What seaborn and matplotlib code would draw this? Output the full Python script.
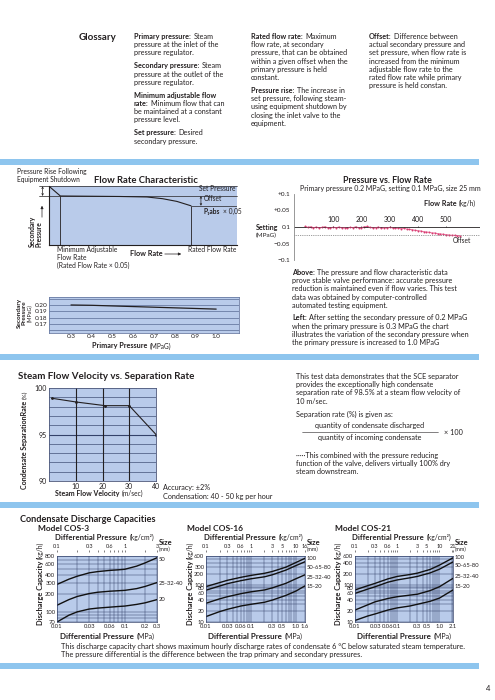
import numpy as np
import pandas as pd
import seaborn as sns
import matplotlib.pyplot as plt
from matplotlib.patches import Rectangle, FancyArrowPatch
from matplotlib.ticker import FixedLocator, LogLocator, NullFormatter

sns.set_style("white")
plt.rcParams['font.family'] = ['Lato', 'DejaVu Sans']
plt.rcParams['axes.linewidth'] = 0.6

# ---------------- data ----------------
gloss_col1 = [
    ["Primary pressure:|Steam", "pressure at the inlet of the", "pressure regulator."],
    ["Secondary pressure:|Steam", "pressure at the outlet of the", "pressure regulator."],
    ["Minimum adjustable flow|", "rate:|Minimum flow that can", "be maintained at a constant", "pressure level."],
    ["Set pressure:|Desired", "secondary pressure."],
]
gloss_col2 = [
    ["Rated flow rate:|Maximum", "flow rate, at secondary", "pressure, that can be obtained",
     "within a given offset when the", "primary pressure is held", "constant."],
    ["Pressure rise:|The increase in", "set pressure, following steam-", "using equipment shutdown by",
     "closing the inlet valve to the", "equipment."],
]
gloss_col3 = [
    ["Offset:|Difference between", "actual secondary pressure and", "set pressure, when flow rate is",
     "increased from the minimum", "adjustable flow rate to the", "rated flow rate while primary",
     "pressure is held constan."],
]
pressure_notes = [
    ["Above:|The pressure and flow characteristic data", "prove stable valve performance: accurate pressure",
     "reduction is maintained even if flow varies. This test", "data was obtained by computer-controlled",
     "automated testing equipment."],
    ["Left:|After setting the secondary pressure of 0.2 MPaG", "when the primary pressure is 0.3 MPaG the chart",
     "illustrates the variation of the secondary pressure when", "the primary pressure is increased to 1.0 MPaG"],
]
steam_notes = [
    ["This test data demonstrates that the SCE separator", "provides the exceptionally high condensate",
     "separation rate of 98.5% at a steam flow velocity of", "10 m/sec."],
    ["Separation rate (%) is given as:"],
]
steam_notes2 = ["\u00b7\u00b7\u00b7\u00b7\u00b7This combined with the pressure reducing",
                "function of the valve, delivers virtually 100% dry", "steam downstream."]

# flow rate characteristic (schematic, relative units)
frc_flow = [0.0, 0.08, 0.3, 0.5, 0.69, 0.8, 0.9, 1.0]
frc_pres = [1.2, 1.0, 0.995, 0.99, 0.98, 0.945, 0.89, 0.8]

# pressure vs flow rate (deviation from 0.1 MPaG setting)
pvf_flow = [0, 10, 20, 30, 40, 50, 60, 70, 80, 90, 100, 110, 120, 130, 140, 150, 160, 170, 180, 190,
            200, 210, 220, 230, 240, 250, 260, 270, 280, 290, 300, 310, 320, 330, 340, 350, 360, 370,
            380, 390, 400, 410, 420, 430, 440, 450, 460, 470, 480, 490, 500, 510, 520, 530, 540, 550]
pvf_dev = [0.002, -0.001, 0.001, -0.002, 0.000, -0.003, -0.001, 0.001, -0.002, -0.003, -0.001, -0.002,
           0.000, -0.003, -0.002, -0.004, -0.001, -0.002, 0.001, -0.003, -0.002, 0.001, 0.002, -0.001,
           -0.003, -0.002, 0.000, -0.004, -0.002, -0.003, -0.001, -0.003, -0.004, -0.003, -0.005, -0.004,
           -0.006, -0.007, -0.008, -0.010, -0.011, -0.012, -0.014, -0.015, -0.016, -0.018, -0.018, -0.020,
           -0.021, -0.022, -0.023, -0.024, -0.025, -0.025, -0.026, -0.027]
pvf_offset = -0.024
pvf_xticks = [100, 200, 300, 400, 500]
pvf_yticks = [0.1, 0.05, 0.0, -0.05, -0.1]
pvf_ylabels = ["+0.1", "+0.05", "0.1", "\u22120.05", "\u22120.1"]

# secondary vs primary pressure
prim_p = [0.3, 0.4, 0.5, 0.6, 0.7, 0.8, 0.9, 1.0]
sec_p = [0.200, 0.1995, 0.1985, 0.1975, 0.1965, 0.1955, 0.1945, 0.1935]

# steam flow velocity vs separation rate
velocity = [1, 10, 21, 30, 40]
separation = [98.9, 98.5, 98.1, 98.1, 95.0]

# condensate discharge capacities
cos3_dp = [0.01, 0.015, 0.02, 0.03, 0.04, 0.06, 0.08, 0.1, 0.15, 0.2, 0.3]
cos3_curves = {
    "50": [280, 340, 380, 430, 450, 470, 480, 490, 550, 620, 750],
    "25-32-40": [130, 160, 180, 200, 210, 218, 222, 225, 240, 260, 300],
    "20": [70, 90, 102, 113, 117, 121, 124, 126, 134, 142, 160],
}
cos16_dp = [0.01, 0.02, 0.03, 0.06, 0.1, 0.2, 0.3, 0.6, 1.0, 1.6]
cos16_curves = {
    "100": [90, 115, 133, 160, 180, 205, 230, 300, 400, 520],
    "50-65-80": [72, 93, 108, 130, 146, 165, 187, 250, 330, 420],
    "25-32-40": [32, 42, 48, 58, 65, 73, 83, 110, 146, 187],
    "15-20": [14, 19, 22, 27, 30, 34, 39, 52, 68, 94],
}
cos21_dp = [0.01, 0.02, 0.03, 0.06, 0.1, 0.2, 0.3, 0.6, 1.0, 2.1]
cos21_curves = {
    "100": [73, 95, 110, 145, 169, 190, 207, 260, 340, 535],
    "50-65-80": [59, 77, 89, 118, 136, 155, 169, 210, 264, 415],
    "25-32-40": [21, 29, 35, 43, 48, 53, 56, 70, 89, 150],
    "15-20": [11, 14.5, 16.5, 21, 24, 27, 30, 36, 44, 73],
}
cos3_xt = [0.01, 0.03, 0.06, 0.1, 0.2, 0.3]
cos16_xt = [0.01, 0.03, 0.06, 0.1, 0.3, 0.5, 1.0, 1.6]
cos21_xt = [0.01, 0.03, 0.06, 0.1, 0.3, 0.5, 1.0, 2.1]
cos3_top = [0.1, 0.3, 0.6, 1, 3]
cos16_top = [0.1, 0.3, 0.6, 1, 3, 5, 10, 16]
cos21_top = [0.1, 0.3, 0.6, 1, 3, 5, 10, 21]
cos3_yt = [70, 100, 200, 300, 400, 600, 800]
cos16_yt = [10, 20, 40, 60, 80, 100, 200, 300, 600]
cos21_yt = [10, 20, 40, 60, 80, 100, 200, 400, 600]

# ---------------- figure ----------------
W, H = 495, 700
INK = '#231f20'
FILL = '#b9cbea'
GRID = '#34426a'
BAR = '#8ec5ee'
BODY = 5.2

fig = plt.figure(figsize=(W / 100, H / 100), dpi=100)
renderer = fig.canvas.get_renderer()


def box(x0, y0, x1, y1):
    return fig.add_axes([x0 / W, 1 - y1 / H, (x1 - x0) / W, (y1 - y0) / H])


def put(x, y, s, size=BODY, weight='normal', **kw):
    kw.setdefault('color', INK)
    kw.setdefault('va', 'baseline')
    return fig.text(x / W, 1 - y / H, s, fontsize=size, fontweight=weight, **kw)


def width(t):
    return t.get_window_extent(renderer).width


def rich(x, y, line, size=BODY, rsize=None):
    b, r = line.split('|', 1) if '|' in line else ('', line)
    if b:
        t = put(x, y, b, size, 'bold')
        x += width(t) + size * 0.5
    if r:
        put(x, y, r, rsize or size)


def rich_center(cx, y, line, size, rsize):
    b, r = line.split('|', 1)
    tb = put(cx, y, b, size, 'bold')
    tr = put(cx, y, r, rsize)
    wb, wr = width(tb), width(tr)
    gap = size * 0.5
    x0 = cx - (wb + gap + wr) / 2
    tb.set_x(x0 / W)
    tr.set_x((x0 + wb + gap) / W)


def para(x, y, blocks, size=BODY, pitch=8.2, gap=4.8):
    for block in blocks:
        for line in block:
            rich(x, y, line, size)
            y += pitch
        y += gap


def vrich(x, y_bottom, bold, reg, size=BODY):
    t = put(x, y_bottom, bold, size, 'bold', rotation=90, va='bottom', ha='center')
    h = t.get_window_extent(renderer).height
    put(x, y_bottom - h - 1.5, reg, size * 0.9, rotation=90, va='bottom', ha='center')


def arrow(x0, y0, x1, y1, style='-|>', ms=4):
    fig.add_artist(FancyArrowPatch((x0 / W, 1 - y0 / H), (x1 / W, 1 - y1 / H), arrowstyle=style,
                                   mutation_scale=ms, lw=0.5, color=INK, transform=fig.transFigure))


# section bars
for y0 in [159, 354, 502, 663]:
    fig.add_artist(Rectangle((0, 1 - (y0 + 6) / H), 479 / W, 6 / H, transform=fig.transFigure,
                             facecolor=BAR, edgecolor='none'))
put(486, 691, "4", 5.5)

# ---------------- glossary ----------------
put(79, 40, "Glossary", 7, 'bold')
para(134, 39, gloss_col1)
para(251, 39, gloss_col2)
para(369, 39, gloss_col3)

# ---------------- flow rate characteristic ----------------
ax = box(49, 186, 237, 245)
ax.set_facecolor(FILL)
ax.set_xlim(0, 1.324)
ax.set_ylim(0, 1.204)
sns.lineplot(x=frc_flow, y=frc_pres, ax=ax, color=INK, lw=0.8, sort=False)
ax.plot([-0.07, 1.324], [1.0, 1.0], color=INK, lw=0.5, clip_on=False)
ax.plot([-0.07, 1.324], [1.2, 1.2], color=INK, lw=0.5, clip_on=False)
ax.plot([frc_flow[-1], 1.324], [frc_pres[-1], frc_pres[-1]], color=INK, lw=0.5)
ax.vlines([frc_flow[1], frc_flow[-1]], 0, [frc_pres[1], frc_pres[-1]], color=INK, lw=0.6)
ax.annotate("", xy=(-0.045, 1.0), xytext=(-0.045, 1.2), annotation_clip=False,
            arrowprops=dict(arrowstyle='<->', lw=0.5, color=INK, mutation_scale=3, shrinkA=0, shrinkB=0))
ax.annotate("", xy=(1.07, frc_pres[-1]), xytext=(1.07, 1.0),
            arrowprops=dict(arrowstyle='<->', lw=0.5, color=INK, mutation_scale=3, shrinkA=0, shrinkB=0))
for s in ['top', 'right']:
    ax.spines[s].set_visible(False)
for s in ['left', 'bottom']:
    ax.spines[s].set_color(INK)
    ax.spines[s].set_linewidth(0.8)
ax.set_xticks([])
ax.set_yticks([])
put(17, 174, "Pressure Rise Following", 4.8)
put(17, 182, "Equipment Shutdown", 4.8)
put(94, 183, "Flow Rate Characteristic", 6.8, 'bold')
put(199, 191, "Set Pressure", 4.8)
put(204, 201, "Offset", 4.8)
rich(204, 214, "P\u2081abs|\u00d7 0,05", 4.8)
put(57, 252, "Minimum Adjustable", 4.8)
put(57, 260, "Flow Rate", 4.8)
put(57, 268, "(Rated Flow Rate \u00d7 0.05)", 4.8)
put(130, 256, "Flow Rate", 5.2, 'bold')
arrow(162, 254, 184, 254)
put(188, 252, "Rated Flow Rate", 4.8)
put(36, 247, "Secondary\nPressure", 4.8, 'bold', rotation=90, va='bottom', ha='center',
    multialignment='left', linespacing=1.0)
arrow(42, 220, 42, 203)

# ---------------- pressure vs flow rate ----------------
put(387, 183, "Pressure vs. Flow Rate", 6.4, 'bold', ha='center')
put(300, 191, "Primary pressure 0.2 MPaG, setting 0.1 MPaG, size 25 mm", 5.0)
ax = box(294, 194, 480, 260)
ax.set_xlim(-39, 620)
ax.set_ylim(-0.1, 0.1)
ax.patch.set_alpha(0)
ax.axhline(0, color=INK, lw=0.6)
ax.axhline(pvf_offset, color='#777777', lw=0.6, ls=(0, (1, 1.2)))
sns.lineplot(x=pvf_flow, y=pvf_dev, ax=ax, color='#e0457b', lw=0.6, alpha=0.8)
sns.scatterplot(x=pvf_flow, y=pvf_dev, ax=ax, color='#d83a70', s=2, linewidth=0)
ax.vlines(pvf_xticks, 0, 0.004, color=INK, lw=0.5)
for v in pvf_xticks:
    ax.text(v, 0.011, str(v), ha='center', va='bottom', fontsize=5.0, color=INK)
for s in ['top', 'right', 'bottom']:
    ax.spines[s].set_visible(False)
ax.spines['left'].set_color('#888888')
ax.set_xticks([])
ax.set_yticks(pvf_yticks, labels=pvf_ylabels)
ax.tick_params(axis='y', labelsize=4.6, length=1.5, width=0.4, pad=1.2, colors=INK)
rich(424, 206, "Flow Rate|(kg/h)", 5.2, 4.8)
put(256, 230, "Setting", 5.0, 'bold')
put(256, 237, "(MPaG)", 4.6)
put(453, 243, "Offset", 4.8)
para(292, 275, pressure_notes, BODY, 8.2, 4.5)

# ---------------- secondary vs primary ----------------
ax = box(49, 297, 239, 333)
ax.set_facecolor(FILL)
for v in [0.16, 0.17, 0.18, 0.19, 0.20, 0.21]:
    ax.axhline(v, color='#6a7ba3', lw=0.6)
sns.lineplot(x=prim_p, y=sec_p, ax=ax, color=INK, lw=0.9)
ax.set_xlim(0.194, 1.11)
ax.set_ylim(0.1558, 0.2126)
ax.set_xticks(prim_p, labels=[f"{v:.1f}" for v in prim_p])
ax.set_yticks([0.20, 0.19, 0.18, 0.17], labels=["0.20", "0.19", "0.18", "0.17"])
ax.tick_params(labelsize=4.6, length=0, pad=1.0, colors=INK)
for s in ax.spines.values():
    s.set_color('#6a7ba3')
put(19, 313, "Secondary", 4.6, 'bold', rotation=90, va='center', ha='center')
put(24.5, 313, "Pressure", 4.6, 'bold', rotation=90, va='center', ha='center')
put(30, 313, "(MPaG)", 4.0, rotation=90, va='center', ha='center')
rich(92, 348.5, "Primary Pressure|(MPaG)", 5.2, 4.7)

# ---------------- steam flow velocity ----------------
put(18, 379, "Steam Flow Velocity vs. Separation Rate", 7.0, 'bold')
ax = box(49, 388, 156, 481)
ax.set_facecolor(FILL)
for v in range(91, 100):
    ax.axhline(v, color=GRID, lw=0.8 if v == 95 else 0.45)
for v in [10, 20, 30]:
    ax.axvline(v, color=INK, lw=0.8)
sns.lineplot(x=velocity, y=separation, ax=ax, color=INK, lw=0.8, marker='o', markersize=2,
             markeredgewidth=0)
ax.set_xlim(0, 40)
ax.set_ylim(90, 100)
ax.set_xticks([10, 20, 30, 40])
ax.set_yticks([90, 95, 100])
ax.tick_params(labelsize=5.0, length=0, pad=1.5, colors=INK)
for s in ax.spines.values():
    s.set_color('#4a5578')
vrich(25, 489, "Condensate SeparationRate", "(%)", 5.1)
rich(55, 496, "Steam Flow Velocity|(m/sec)", 5.0, 4.8)
put(163, 490, "Accuracy: \u00b12%", BODY)
put(163, 499, "Condensation: 40 - 50 kg per hour", BODY)
para(296, 379, steam_notes, BODY, 8.2, 4.8)
put(370, 428, "quantity of condensate discharged", BODY, ha='center')
fig.add_artist(plt.Line2D([302 / W, 438 / W], [1 - 432 / H, 1 - 432 / H], color=INK, lw=0.4))
put(370, 440, "quantity of incoming condensate", BODY, ha='center')
put(444, 435, "\u00d7 100", BODY)
para(296, 458, [steam_notes2], BODY, 8.2, 4.8)

# ---------------- condensate discharge capacities ----------------
put(20, 522, "Condensate Discharge Capacities", 6.6, 'bold')


def cos_chart(x0, x1, dp, curves, xt, top, yt, ylim, size_y, ylab_x, model, model_x):
    put(model_x, 531, model, 6.0, 'bold')
    ax = box(x0, 556, x1, 622)
    ax.set_facecolor(FILL)
    ax.set_xscale('log')
    ax.set_yscale('log')
    for name, vals in curves.items():
        sns.lineplot(x=dp, y=vals, ax=ax, color='#111111', lw=1.0)
    ax.set_xlim(dp[0], dp[-1])
    ax.set_ylim(*ylim)
    ax.xaxis.set_major_locator(FixedLocator(xt))
    ax.xaxis.set_minor_locator(LogLocator(base=10, subs=np.arange(1, 10)))
    ax.yaxis.set_major_locator(FixedLocator(yt))
    ax.yaxis.set_minor_locator(LogLocator(base=10, subs=np.arange(1, 10)))
    ax.set_xticklabels([f"{v:g}" if v < 1 else f"{v:.1f}" for v in xt])
    ax.set_yticklabels([str(v) for v in yt])
    ax.xaxis.set_minor_formatter(NullFormatter())
    ax.yaxis.set_minor_formatter(NullFormatter())
    ax.grid(True, which='both', color=GRID, lw=0.35)
    ax.tick_params(which='both', labelsize=4.2, length=0, pad=1.2, colors=INK)
    for s in ax.spines.values():
        s.set_color(GRID)
        s.set_linewidth(0.5)
    for name, ly in zip(curves, size_y):
        ax.text(1.02, ly, name, transform=ax.get_yaxis_transform(), fontsize=4.2, color=INK,
                va='center', ha='left')
    # top axis in kg/cm2
    tax = fig.add_axes([x0 / W, 1 - 550 / H, (x1 - x0) / W, 0.0001])
    tax.set_xscale('log')
    tax.set_xlim(dp[0] * 10, dp[-1] * 10)
    tax.patch.set_alpha(0)
    for s in tax.spines.values():
        s.set_visible(False)
    tax.set_yticks([])
    tax.xaxis.set_ticks_position('top')
    tax.xaxis.set_major_locator(FixedLocator(top))
    tax.xaxis.set_minor_locator(LogLocator(base=10, subs=np.arange(1, 10)))
    tax.set_xticklabels([f"{v:g}" for v in top])
    tax.xaxis.set_minor_formatter(NullFormatter())
    tax.tick_params(which='both', direction='in', length=1.5, width=0.4, labelsize=4.0, pad=0.8,
                    colors=INK)
    cx = (x0 + x1) / 2
    rich_center(cx - 2, 540, "Differential Pressure|(kg/cm\u00b2)", 5.6, 4.9)
    rich_center(cx, 639, "Differential Pressure|(MPa)", 5.8, 5.0)
    put(x1 + 2, 545, "Size", 5.4, 'bold')
    put(x1 + 2, 551, "(mm)", 4.0)
    vrich(ylab_x, 625, "Discharge Capacity", "(kg/h)", 5.4)


cos_chart(57, 157, cos3_dp, cos3_curves, cos3_xt, cos3_top, cos3_yt, (70, 800),
          [700, 295, 160], 40, "Model COS-3", 38)
cos_chart(206, 305, cos16_dp, cos16_curves, cos16_xt, cos16_top, cos16_yt, (10, 600),
          [515, 290, 160, 88], 190, "Model COS-16", 187)
cos_chart(355, 453, cos21_dp, cos21_curves, cos21_xt, cos21_top, cos21_yt, (10, 600),
          [530, 324, 172, 89], 338, "Model COS-21", 335)

put(61, 649, "This discharge capacity chart shows maximum hourly discharge rates of condensate 6 \u00b0C "
    "below saturated steam temperature.", 5.3)
put(61, 657, "The pressure differential is the difference between the trap primary and secondary pressures.", 5.3)

fig.savefig("out.png", dpi=100)
